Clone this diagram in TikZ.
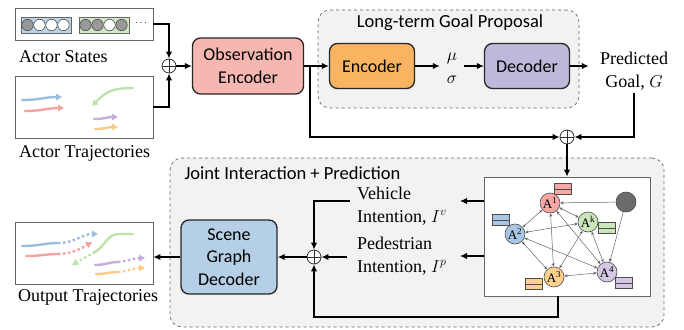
\documentclass[tikz,border=0pt]{standalone}
\usepackage{fontspec}
\setmainfont{Liberation Serif}
\setsansfont{Carlito}
\usetikzlibrary{arrows.meta,positioning,calc}

\definecolor{obsfill}{HTML}{F7B7B1}
\definecolor{encfill}{HTML}{F9B461}
\definecolor{decfill}{HTML}{BDB9DA}
\definecolor{sgdfill}{HTML}{B4CFE6}
\definecolor{stblue}{HTML}{BCD3E8}
\definecolor{stgreen}{HTML}{D0E8C4}
\definecolor{tblue}{HTML}{9BBEDF}
\definecolor{tred}{HTML}{F3A3A1}
\definecolor{tgreen}{HTML}{BCE3AA}
\definecolor{tpurple}{HTML}{C7ADDA}
\definecolor{torange}{HTML}{F9CB8C}
\definecolor{aone}{HTML}{F5A8A6}
\definecolor{atwo}{HTML}{A9C7E4}
\definecolor{athree}{HTML}{FCD08E}
\definecolor{afour}{HTML}{D5C8E6}
\definecolor{akay}{HTML}{CBE6BA}

\tikzset{
  blk/.style={draw=black!85, line width=1.3pt, rounded corners=8pt, align=center,
    font=\sffamily\fontsize{18}{22.5}\selectfont},
  panel/.style={draw=black!60, line width=0.7pt, fill=white},
  grp/.style={draw=black!60, dashed, line width=0.7pt, rounded corners=12pt, fill=black!5},
  lbl/.style={font=\fontsize{18}{22.5}\selectfont, align=left, inner sep=1pt},
  ttl/.style={font=\sffamily\fontsize{18.5}{21}\selectfont},
  sum/.style={circle, draw=black!80, line width=0.8pt, fill=white, minimum size=14pt, inner sep=0pt,
    path picture={\draw[line width=0.6pt] (path picture bounding box.north) -- (path picture bounding box.south)
      (path picture bounding box.west) -- (path picture bounding box.east);}},
  arr/.style={-{Latex[length=7pt,width=6.5pt]}, line width=1.4pt},
  agent/.style={circle, draw=black!70, line width=0.6pt, minimum size=20pt, inner sep=0pt,
    font=\fontsize{13}{13}\selectfont},
  feat/.style={draw=black!70, line width=0.6pt, minimum width=17pt, minimum height=11pt, inner sep=0pt,
    path picture={\draw[black!70, line width=0.6pt] (path picture bounding box.west) -- (path picture bounding box.east);}},
  link/.style={{Stealth[length=3.5pt,width=3pt]}-{Stealth[length=3.5pt,width=3pt]}, draw=black!60, line width=0.5pt},
  onelink/.style={-{Stealth[length=3.5pt,width=3pt]}, draw=black!60, line width=0.5pt},
  slot/.style={circle, draw=black!75, line width=0.5pt, minimum size=11.5pt, inner sep=0pt},
  trj/.style={line width=2.4pt, line cap=round},
  fut/.style={line width=2.4pt, dash pattern=on 2.5pt off 2.5pt},
  tip/.style={-{Triangle[length=6pt,width=6.5pt]}},
}

\begin{document}
\begin{tikzpicture}[x=1pt,y=-1pt]
    \useasboundingbox (0,0) rectangle (684,329);

    % Groups
    \node[grp, minimum width=261, minimum height=98] (goalgrp) at (448.5,59) {};
    \node[ttl] (goaltitle) at (450,23) {Long-term Goal Proposal};
    \node[grp, minimum width=494, minimum height=169] (jointgrp) at (417,242.5) {};
    \node[ttl, anchor=west] (jointtitle) at (181,173) {Joint Interaction + Prediction};

    % Inputs
    \node[panel, minimum width=138, minimum height=32] (states) at (84,24) {};
    \node[draw=black!60, line width=0.6pt, fill=stblue, minimum width=50, minimum height=16] (stb) at (46,25) {};
    \node[draw=black!60, line width=0.6pt, fill=stgreen, minimum width=50, minimum height=16] (stg) at (104,25) {};
    \foreach \i/\c in {0/black!40,1/white,2/white,3/white}
        \node[slot, fill=\c] (sb\i) at ({27.5+12*\i},25) {};
    \foreach \i/\c in {0/black!40,1/black!40,2/white,3/black!40}
        \node[slot, fill=\c] (sg\i) at ({85.5+12*\i},25) {};
    \node (dots) at (141,23) {$\cdots$};
    \node[lbl, anchor=west] (statesl) at (18,57) {Actor States};

    \node[panel, minimum width=138, minimum height=62] (traj) at (84,107) {};
    \draw[trj, tblue, tip] (22,100) .. controls (40,100) and (45,97) .. (62,97);
    \draw[trj, tred, tip] (25,111) .. controls (42,111) and (48,108) .. (64,108);
    \draw[trj, tgreen, tip] (133,88) .. controls (110,88) and (105,93) .. (92,106);
    \draw[trj, tpurple, tip] (94,119) .. controls (104,119) and (108,117) .. (118,117);
    \draw[trj, torange, tip] (95,129) .. controls (105,129) and (108,127) .. (118,127);
    \node[lbl, anchor=west] (trajl) at (18,153) {Actor Trajectories};

    % Observation + goal proposal
    \node[sum] (s1) at (169,66) {};
    \node[blk, fill=obsfill, minimum width=111, minimum height=56] (obs) at (248,66) {Observation\\Encoder};
    \node[blk, fill=encfill, minimum width=85, minimum height=45] (enc) at (372,66) {Encoder};
    \node[font=\fontsize{18}{23}\selectfont, align=center, minimum width=24, inner sep=0pt] (musig) at (452,68.5) {$\mu$\\$\sigma$};
    \node[blk, fill=decfill, minimum width=85, minimum height=45] (dec) at (527,66) {Decoder};
    \node[lbl, align=center, inner xsep=11pt, inner ysep=3pt] (goal) at (634,71) {Predicted\\Goal, $G$};
    \node[sum] (s2) at (567,137) {};
    \coordinate (split) at (310,66);

    \draw[arr] (states.east) -| (s1);
    \draw[arr] (traj.east) -| (s1);
    \draw[arr] (s1) -- (obs);
    \draw[arr] (obs) -- (enc);
    \draw[arr] (enc.east) -- (enc.east -| musig.west);
    \draw[arr] (dec.west -| musig.east) -- (dec.west);
    \draw[arr] (dec) -- (dec -| goal.west);
    \draw[arr] (split) |- (s2);
    \draw[arr] (goal.south) |- (s2);

    % Scene graph
    \node[panel, minimum width=166, minimum height=119] (graph) at (567,236.5) {};
    \node[feat, fill=aone] (f1) at (563,189) {};
    \node[feat, fill=atwo] (f2) at (501,220) {};
    \node[feat, fill=akay] (fk) at (607,228) {};
    \node[feat, fill=athree] (f3) at (534,284) {};
    \node[feat, fill=afour] (f4) at (624,283) {};
    \node[agent, fill=aone] (a1) at (550,203) {A\textsuperscript{1}};
    \node[agent, fill=akay] (ak) at (588,222) {A\textsuperscript{k}};
    \node[agent, fill=atwo] (a2) at (515,234) {A\textsuperscript{2}};
    \node[agent, fill=athree] (a3) at (554,277) {A\textsuperscript{3}};
    \node[agent, fill=afour] (a4) at (607,272) {A\textsuperscript{4}};
    \node[agent, fill=black!58] (ego) at (626,202) {};
    \foreach \u/\v in {a1/a2,a1/ak,a1/a3,a1/a4,a2/ak,a2/a3,a2/a4,ak/a3,ak/a4,a3/a4}
        \draw[link] (\u) -- (\v);
    \draw[onelink] (ego) -- (a1);
    \draw[onelink] (ego) -- (a4);

    \draw[arr] (s2) -- (graph);

    % Intentions
    \node[lbl, anchor=west] (veh) at (356,206) {Vehicle\\Intention, $I^v$};
    \node[lbl, anchor=west] (ped) at (356,256) {Pedestrian\\Intention, $I^p$};
    \coordinate (vin) at (460,201);
    \coordinate (pin) at (460,256);
    \coordinate (vout) at (350,201);
    \coordinate (pout) at (347,257);
    \coordinate (gbot) at (558,317);
    \node[sum] (s3) at (314,257) {};
    \draw[arr] (vin -| graph.west) -- (vin);
    \draw[arr] (pin -| graph.west) -- (pin);
    \draw[arr] (vout) -| (s3);
    \draw[arr] (pout) -- (s3);
    \draw[arr] (gbot |- graph.south) -- (gbot) -| (s3);

    % Decoder + output
    \node[blk, fill=sgdfill, minimum width=96, minimum height=74] (sgd) at (229,257) {Scene\\Graph\\Decoder};
    \node[panel, minimum width=138, minimum height=62] (out) at (84,253) {};
    \draw[arr] (s3) -- (sgd);
    \draw[arr] (sgd) -- (sgd -| out.east);

    \draw[trj, tblue] (22,246) .. controls (40,246) and (45,243) .. (58,243);
    \draw[fut, tblue, tip] (58,243) .. controls (75,243) and (82,234) .. (98,234);
    \draw[trj, tred] (26,256) .. controls (40,256) and (48,254) .. (58,254);
    \draw[fut, tred, tip] (58,254) .. controls (72,254) and (82,248) .. (92,242);
    \draw[trj, tgreen] (133,234) -- (118,234) .. controls (108,234) and (103,248) .. (95,252);
    \draw[fut, tgreen, tip] (95,252) -- (72,265);
    \draw[trj, tpurple] (95,265) .. controls (105,265) and (110,262) .. (118,262);
    \draw[fut, tpurple, tip] (118,262) .. controls (128,261) and (135,258) .. (145,258);
    \draw[trj, torange] (96,274) .. controls (106,274) and (110,272) .. (118,272);
    \draw[fut, torange, tip] (118,272) .. controls (128,271) and (135,268) .. (145,268);
    \node[lbl, anchor=west] (outl) at (17,297) {Output Trajectories};
\end{tikzpicture}
\end{document}
